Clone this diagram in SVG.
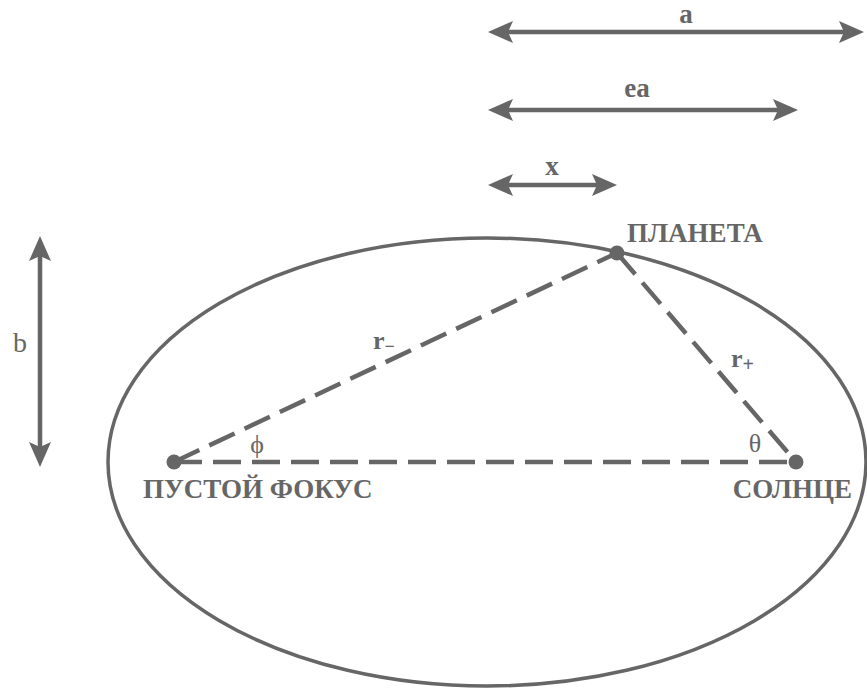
<svg xmlns="http://www.w3.org/2000/svg" width="867" height="689" viewBox="0 0 867 689">
<style>
.ln{stroke:#666;stroke-width:4.5;fill:none}
.dash{stroke:#666;stroke-width:4.5;fill:none;stroke-dasharray:28 11}
text{fill:#666}
.dot{fill:#666}
</style>
<defs>
<marker id="ah" markerUnits="userSpaceOnUse" viewBox="0 0 25 22" refX="13" refY="11" markerWidth="25" markerHeight="22" orient="auto-start-reverse">
<path d="M0,0 L25,11 L0,22 L5,11 Z" fill="#666"/>
</marker>
</defs>
<rect width="867" height="689" fill="#fff"/>
<g id="orbit">
<ellipse cx="487" cy="462" rx="379" ry="224" fill="none" stroke="#666" stroke-width="3.5"/>
</g>
<g id="connectors">
<line class="ln" x1="500" y1="32" x2="852" y2="32" marker-start="url(#ah)" marker-end="url(#ah)"/>
<line class="ln" x1="500" y1="110" x2="786" y2="110" marker-start="url(#ah)" marker-end="url(#ah)"/>
<line class="ln" x1="500" y1="185" x2="605" y2="185" marker-start="url(#ah)" marker-end="url(#ah)"/>
<line class="ln" x1="40" y1="248" x2="40" y2="455" marker-start="url(#ah)" marker-end="url(#ah)"/>
<line class="dash" x1="174" y1="462" x2="617" y2="253"/>
<line class="dash" x1="617" y1="253" x2="796" y2="462"/>
<line class="dash" x1="174" y1="462" x2="796" y2="462"/>
</g>
<g font-family="Liberation Serif, serif">
<g id="label-a"><text x="686" y="23" text-anchor="middle" font-weight="bold" font-size="27">a</text></g>
<g id="label-ea"><text x="637" y="97" text-anchor="middle" font-weight="bold" font-size="27">ea</text></g>
<g id="label-x"><text x="552" y="175" text-anchor="middle" font-weight="bold" font-size="27">x</text></g>
<g id="label-b"><text x="20" y="352" text-anchor="middle" font-size="28">b</text></g>
<g id="planet">
<circle class="dot" cx="617" cy="253" r="7.5"/>
<text x="627" y="242" font-weight="bold" font-size="27">ПЛАНЕТА</text>
</g>
<g id="empty-focus">
<circle class="dot" cx="174" cy="462" r="7.5"/>
<text x="143" y="498" font-weight="bold" font-size="27">ПУСТОЙ ФОКУС</text>
</g>
<g id="sun">
<circle class="dot" cx="796" cy="462" r="7.5"/>
<text x="852" y="498" text-anchor="end" font-weight="bold" font-size="27">СОЛНЦЕ</text>
</g>
<g id="label-rminus"><text x="373" y="349" font-weight="bold" font-size="26">r<tspan font-size="18" dy="3">−</tspan></text></g>
<g id="label-rplus"><text x="731" y="367" font-weight="bold" font-size="26">r<tspan font-size="20" dy="4">+</tspan></text></g>
<g id="label-phi"><text x="257" y="453" text-anchor="middle" font-size="26">ϕ</text></g>
<g id="label-theta"><text x="755" y="452" text-anchor="middle" font-size="26">θ</text></g>
</g>
</svg>
